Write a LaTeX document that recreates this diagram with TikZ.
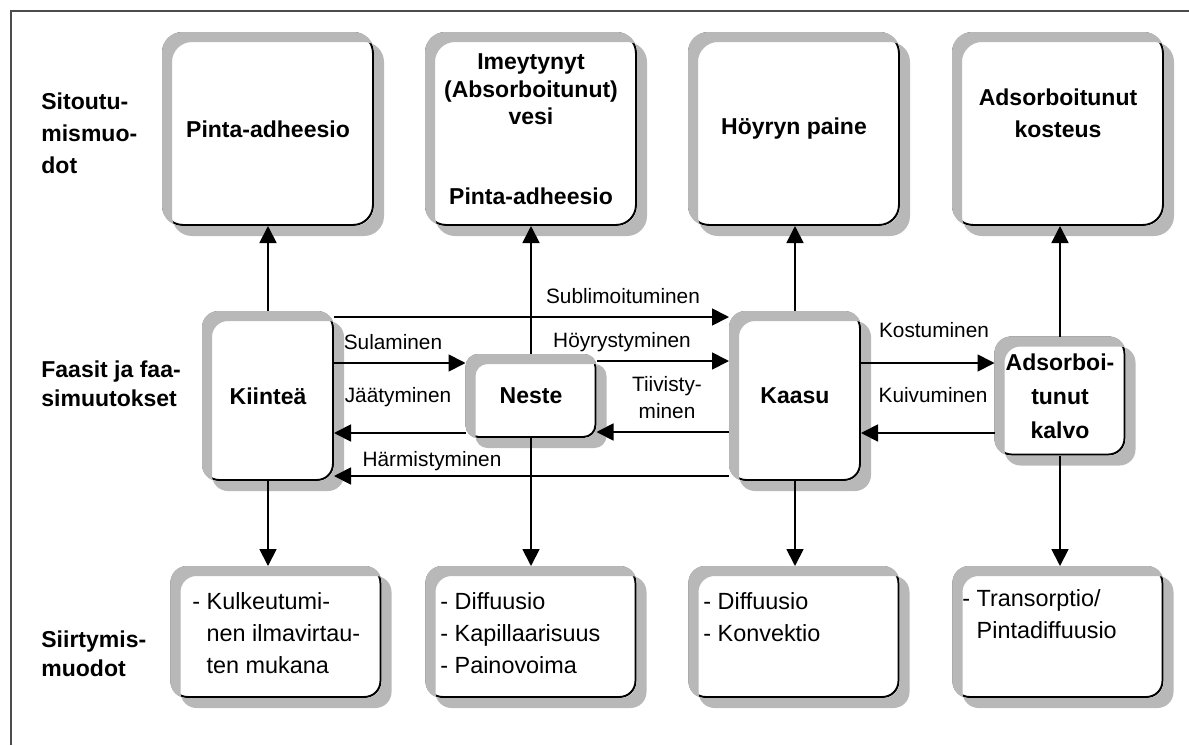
\documentclass[tikz,border=0pt]{standalone}
\usepackage{fontspec}
\setmainfont{Liberation Sans}
\usetikzlibrary{positioning, arrows.meta}
\colorlet{shadowgrey}{black!28}
\colorlet{framegrey}{black!70}

\begin{document}
\begin{tikzpicture}[x=0.5pt, y=-0.5pt,
    card/.style={draw=black, line width=1pt, fill=white, align=center},
    bindbox/.style={card, rounded corners=10pt, minimum width=105pt, minimum height=96pt,
                    font=\fontsize{11.5}{16}\selectfont\bfseries},
    phasebox/.style={card, rounded corners=8pt, minimum width=65pt,
                     font=\fontsize{11.5}{17}\selectfont\bfseries},
    movebox/.style={card, rounded corners=8pt, minimum width=104.5pt, minimum height=65pt},
    movetext/.style={align=left, inner sep=0pt, anchor=north west,
                     font=\fontsize{11.7}{16}\selectfont},
    sidelabel/.style={align=left, inner sep=0pt, anchor=west,
                      font=\fontsize{11.5}{16}\selectfont\bfseries},
    flowlabel/.style={inner sep=0pt, align=center, font=\fontsize{10.4}{13.5}\selectfont},
    boxshadow/.style={fill=shadowgrey, draw=none, even odd rule, rounded corners=#1},
    arr/.style={-{Triangle[length=8.5pt, width=8.5pt]}, line width=0.9pt}]

    \useasboundingbox (0,0) rectangle (1189,745);
    \draw[framegrey, line width=0.8pt] (11,745) -- (11,11) -- (1189,11);

    \node[sidelabel] (sitout) at (41,133) {Sitoutu-\\mismuo-\\dot};
    \node[sidelabel, font=\fontsize{11.5}{14.5}\selectfont\bfseries] (faasit) at (41,384)
        {Faasit ja faa-\\simuutokset};
    \node[sidelabel, font=\fontsize{11.5}{14.5}\selectfont\bfseries] (siirt) at (41,654)
        {Siirtymis-\\muodot};

    \node[bindbox] (pinta) at (268,129) {Pinta-adheesio};
    \node[bindbox, font=\fontsize{11.5}{13.75}\selectfont\bfseries] (imey) at (531,129)
        {Imeytynyt\\(Absorboitunut)\\vesi\\[26pt]Pinta-adheesio};
    \node[bindbox] (hoyry) at (794,129) {Höyryn paine};
    \node[bindbox] (adsk) at (1058,129) {Adsorboitunut\\kosteus\\\mbox{}};

    \node[phasebox, minimum height=84pt] (kiintea) at (268,396) {Kiinteä};
    \node[phasebox, minimum width=64.5pt, minimum height=41pt, rounded corners=6pt]
        (neste) at (531,396) {Neste};
    \node[phasebox, minimum height=84pt] (kaasu) at (795,396) {Kaasu};
    \node[phasebox, minimum width=64.5pt, minimum height=58.5pt] (kalvo) at (1060,396)
        {Adsorboi-\\tunut\\kalvo};

    \node[movebox] (kulk) at (276,632) {};
    \node[movebox] (nestemove) at (531,632) {};
    \node[movebox] (kaasumove) at (794,632) {};
    \node[movebox] (kalvomove) at (1058,632) {};
    \node[movetext] (kulkT) at (192,592)
        {- Kulkeutumi-\\\phantom{-\ }nen ilmavirtau-\\\phantom{-\ }ten mukana};
    \node[movetext] (nestemoveT) at (440,592)
        {- Diffuusio\\- Kapillaarisuus\\- Painovoima};
    \node[movetext] (kaasumoveT) at (703,592) {- Diffuusio\\- Konvektio};
    \node[movetext] (kalvomoveT) at (962,589) {- Transorptio/\\\phantom{-\ }Pintadiffuusio};

    \foreach \b/\r in {pinta/10pt, imey/10pt, hoyry/10pt, adsk/10pt, kiintea/8pt,
                       neste/6pt, kaasu/8pt, kalvo/8pt, kulk/8pt, nestemove/8pt,
                       kaasumove/8pt, kalvomove/8pt}
      \fill[boxshadow=\r] ([xshift=5pt, yshift=-5pt]\b.north west)
            rectangle ([xshift=5pt, yshift=-5pt]\b.south east)
            (\b.north west) rectangle (\b.south east);

    \node[flowlabel] (lsubl) at (623,296) {Sublimoituminen};
    \node[flowlabel] (lsul) at (393,342) {Sulaminen};
    \node[flowlabel] (ljaa) at (398,397) {Jäätyminen};
    \node[flowlabel] (lharm) at (432,461) {Härmistyminen};
    \node[flowlabel] (lhoyr) at (622,342) {Höyrystyminen};
    \node[flowlabel] (ltiiv) at (667,398) {Tiivisty-\\minen};
    \node[flowlabel] (lkost) at (934,330) {Kostuminen};
    \node[flowlabel] (lkuiv) at (933,395) {Kuivuminen};

    \draw[arr] (kiintea.north) -- (pinta.south);
    \draw[arr] (neste.north) -- (imey.south);
    \draw[arr] (kaasu.north) -- (kaasu.north |- hoyry.south);
    \draw[arr] (kalvo.north) -- (kalvo.north |- adsk.south);

    \draw[arr] ([yshift=39.5pt]kiintea.east) -- ([yshift=39.5pt]kaasu.west);
    \draw[arr] ([yshift=16.5pt]kiintea.east) -- ([yshift=16.5pt]neste.west);
    \draw[arr] ([yshift=-18.5pt]neste.west) -- ([yshift=-18.5pt]kiintea.east);
    \draw[arr] ([yshift=-40pt]kaasu.west) -- ([yshift=-40pt]kiintea.east);
    \draw[arr] ([yshift=17.5pt]neste.east) -- ([yshift=17.5pt]kaasu.west);
    \draw[arr] ([yshift=-18pt]kaasu.west) -- ([yshift=-18pt]neste.east);
    \draw[arr] ([yshift=16.5pt]kaasu.east) -- ([yshift=16.5pt]kalvo.west);
    \draw[arr] ([yshift=-18.5pt]kalvo.west) -- ([yshift=-18.5pt]kaasu.east);

    \draw[arr] (kiintea.south) -- (kiintea.south |- kulk.north);
    \draw[arr] (neste.south) -- (nestemove.north);
    \draw[arr] (kaasu.south) -- (kaasu.south |- kaasumove.north);
    \draw[arr] (kalvo.south) -- (kalvo.south |- kalvomove.north);
\end{tikzpicture}
\end{document}
